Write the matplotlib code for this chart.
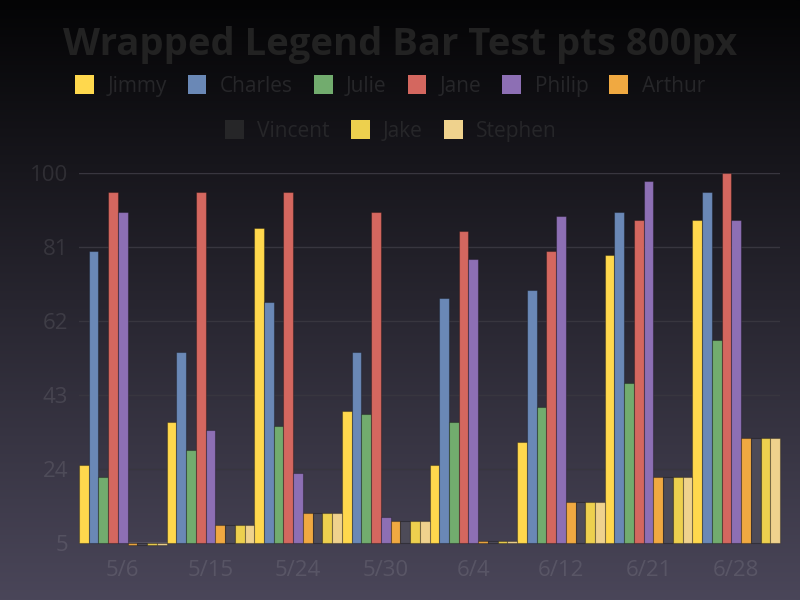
import numpy as np
import matplotlib
matplotlib.use("Agg")
import matplotlib.pyplot as plt
from matplotlib.patches import Rectangle

plt.rcParams['font.family'] = ['Open Sans', 'DejaVu Sans']

# data
dates = ["5/6", "5/15", "5/24", "5/30", "6/4", "6/12", "6/21", "6/28"]
names = ["Jimmy", "Charles", "Julie", "Jane", "Philip", "Arthur", "Vincent", "Jake", "Stephen"]
jimmy = [25, 36, 86, 39, 25, 31, 79, 88]
charles = [80, 54, 67, 54, 68, 70, 90, 95]
julie = [22, 29, 35, 38, 36, 40, 46, 57]
jane = [95, 95, 95, 90, 85, 80, 88, 100]
philip = [90, 34, 23, 11.7, 78, 89, 98, 88]
arthur = [4.6, 9.6, 12.6, 10.6, 5.6, 15.6, 22, 32]
vincent = [4.6, 9.6, 12.6, 10.6, 5.6, 15.6, 22, 32]
jake = [4.6, 9.6, 12.6, 10.6, 5.6, 15.6, 22, 32]
stephen = [4.6, 9.6, 12.6, 10.6, 5.6, 15.6, 22, 32]
yticks = [5, 24, 43, 62, 81, 100]

series = [jimmy, charles, julie, jane, philip, arthur, vincent, jake, stephen]
legend_colors = ["#FFD84D", "#6A88B6", "#72AC6E", "#D4675F", "#8D6FB4",
                 "#F0A941", "#262628", "#EDD04E", "#EFD28D"]
bar_colors = legend_colors[:6] + ["#4D4B58"] + legend_colors[7:]

W, H = 800, 600
fig = plt.figure(figsize=(8, 6), dpi=100)

# background gradient
bg = fig.add_axes([0, 0, 1, 1], zorder=-10)
top = np.array([0x04, 0x04, 0x05]) / 255
bot = np.array([0x4a, 0x46, 0x59]) / 255
t = np.linspace(0, 1, 256)[:, None]
grad = top + (bot - top) * t
bg.imshow(grad[:, None, :], aspect='auto', extent=[0, 1, 0, 1])
bg.axis('off')

ax = fig.add_axes([79 / W, 1 - 543 / H, (780 - 79) / W, (543 - 173) / H])
ax.set_facecolor('none')

n = len(series)
x = np.arange(len(dates))
w = 1.0 / n
for j, vals in enumerate(series):
    vals = np.array(vals, dtype=float)
    ax.bar(x - 0.5 + w * (j + 0.5), vals - 5, bottom=5, width=w,
           color=bar_colors[j], edgecolor=(0, 0, 0, 0.3), linewidth=0.8,
           zorder=3, clip_on=False)

ax.set_xlim(-0.5, len(dates) - 0.5)
ax.set_ylim(5, 100)
ax.set_yticks(yticks)
ax.set_xticks(x)
ax.set_xticklabels(dates)
for s in ax.spines.values():
    s.set_visible(False)
for yv in yticks[1:]:
    ax.axhline(yv, color="#38363f", lw=1, zorder=1)
ax.axhline(5, color="#5a5766", lw=1.3, zorder=2)

lab_col = (1, 1, 1, 0.1)
ax.tick_params(axis='y', length=0, pad=8, labelsize=16, labelcolor=lab_col)
ax.tick_params(axis='x', length=0, pad=12, labelsize=16, labelcolor=lab_col)

# title
fig.text(0.5, 1 - 55 / H, "Wrapped Legend Bar Test pts 800px", ha='center',
         va='baseline', fontsize=27.5, fontweight='bold', color="#222222")

# legend in two rows
handles = [Rectangle((0, 0), 1, 1, facecolor=c, edgecolor='none') for c in legend_colors]
leg_kw = dict(frameon=False, fontsize=15, labelcolor="#262629", handlelength=0.9,
              handleheight=1.0, handletextpad=0.65, columnspacing=1.0,
              borderpad=0, loc='center')
fig.legend(handles[:6], names[:6], ncol=6, bbox_to_anchor=(0.5 - 10 / W, 1 - 86 / H), **leg_kw)
fig.legend(handles[6:], names[6:], ncol=3, bbox_to_anchor=(0.5 - 9 / W, 1 - 131 / H), **leg_kw)

fig.savefig("out.png", dpi=100)
